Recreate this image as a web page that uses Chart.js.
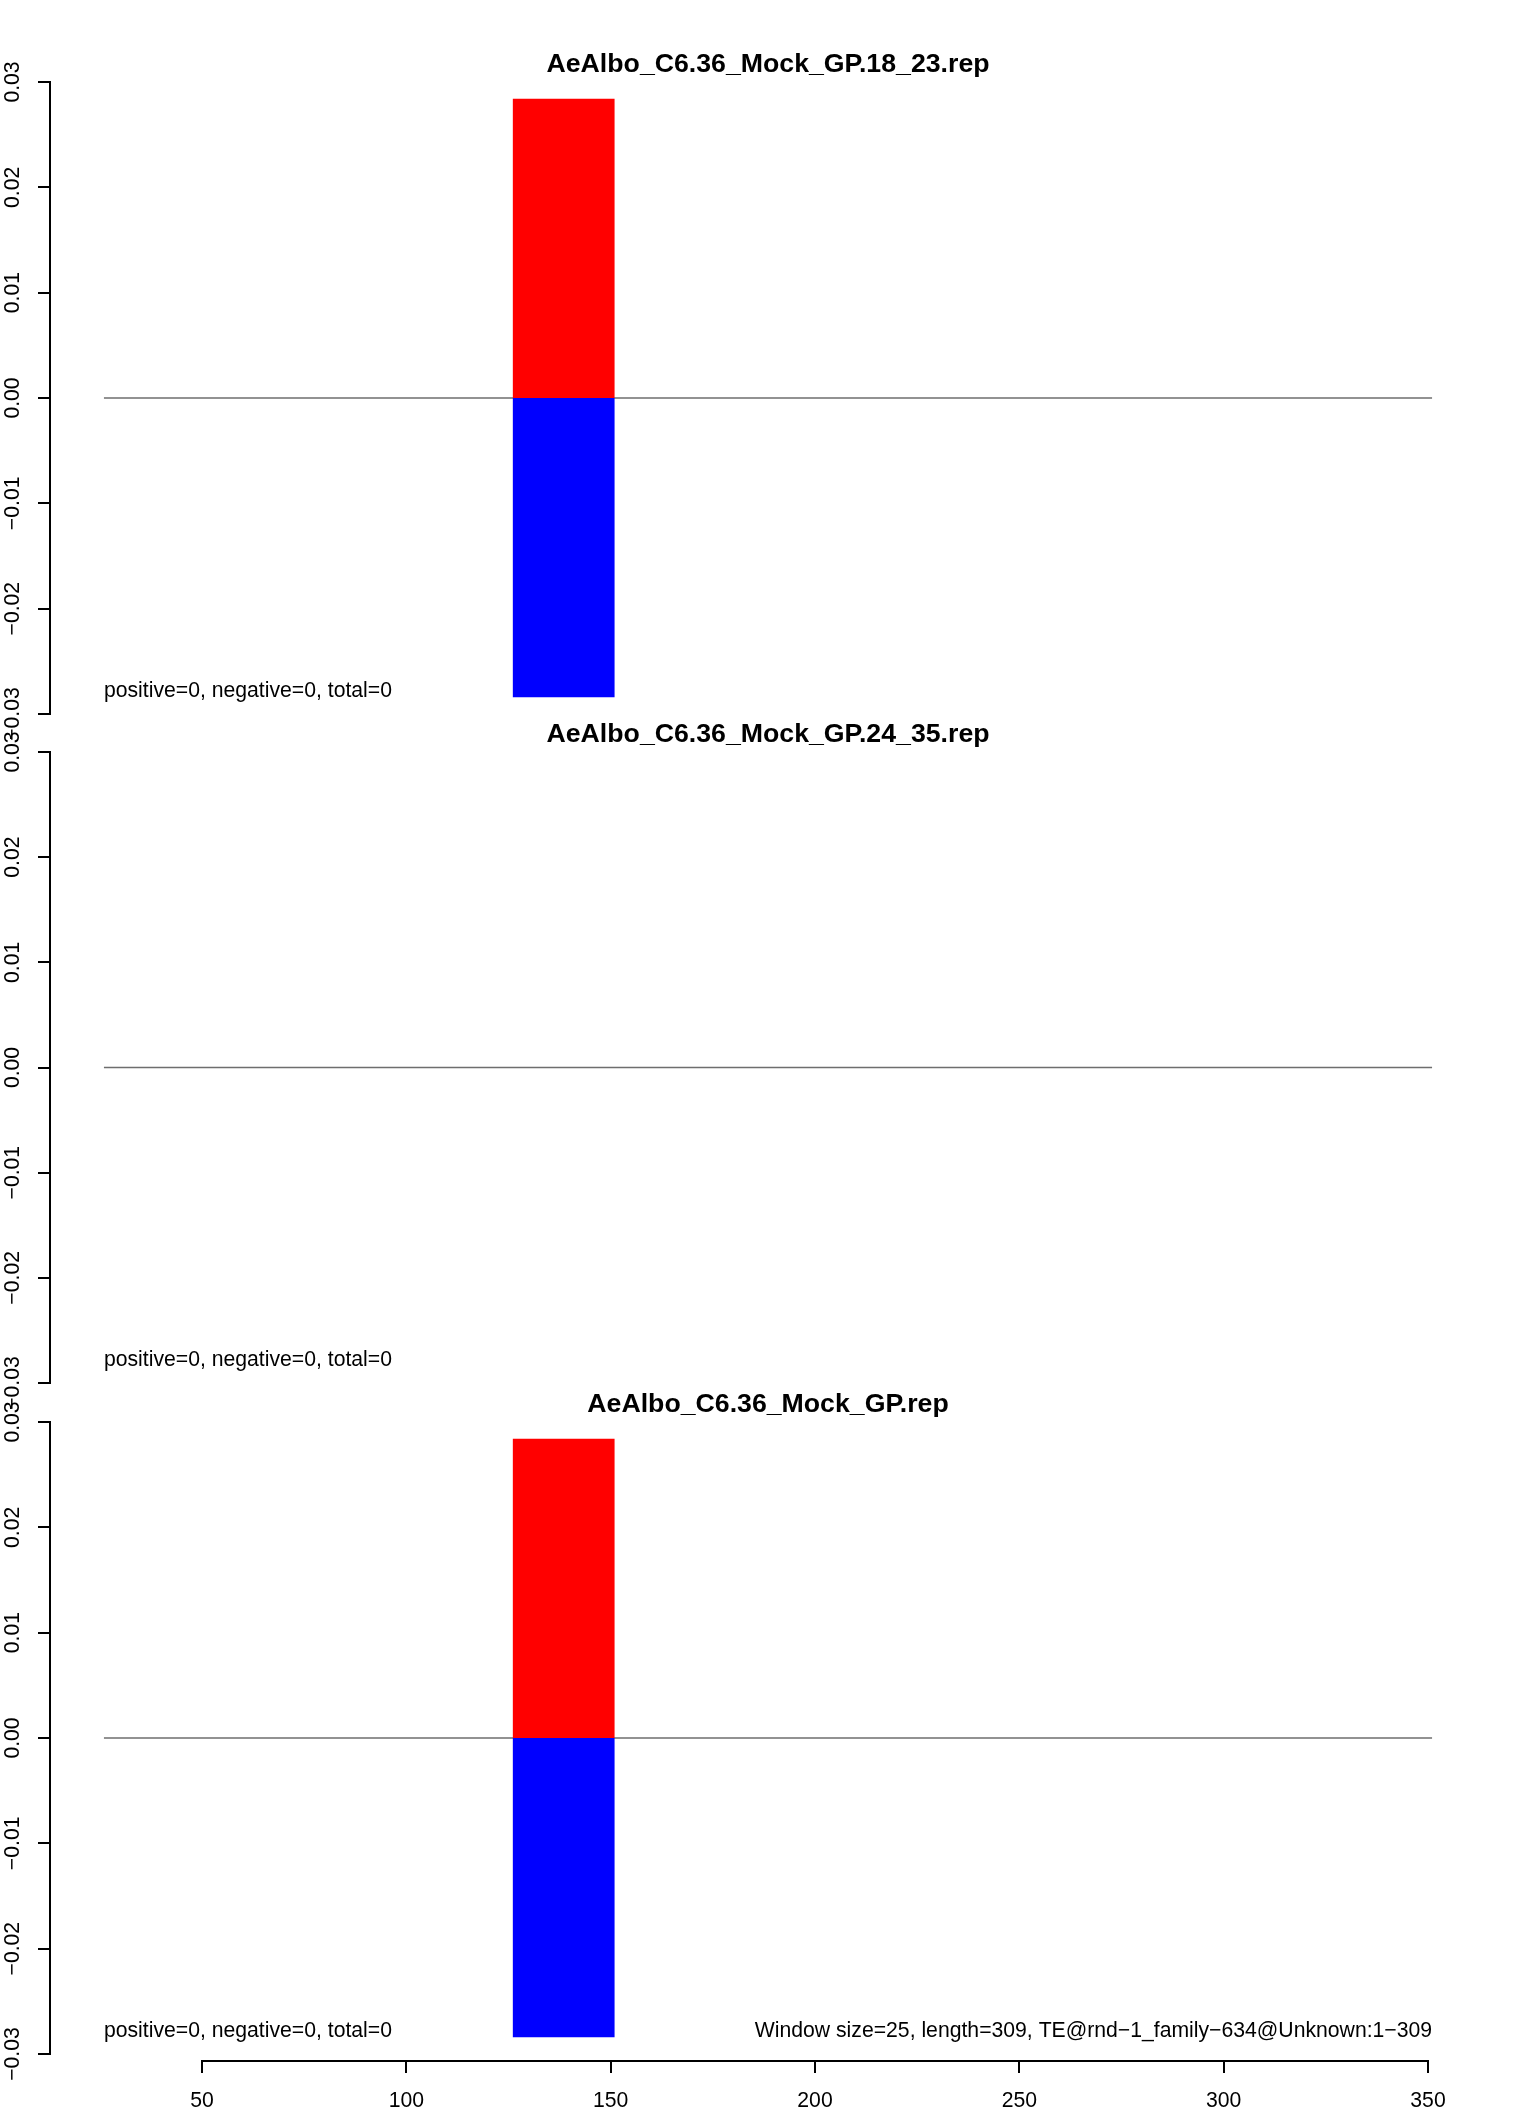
<!DOCTYPE html>
<html>
<head>
<meta charset="utf-8">
<script src="https://cdn.jsdelivr.net/npm/chart.js@4.4.1/dist/chart.umd.min.js"></script>
<style>
  html, body { margin: 0; padding: 0; background: #fff; }
  #wrap { position: relative; width: 1536px; height: 2112px; }
  #wrap canvas { position: absolute; left: 0; top: 0; }
</style>
</head>
<body>
<div id="wrap">
  <canvas id="panel-0" width="1536" height="2112"></canvas>
  <canvas id="panel-1" width="1536" height="2112"></canvas>
  <canvas id="panel-2" width="1536" height="2112"></canvas>
  <canvas id="x-axis" width="1536" height="2112"></canvas>
</div>
<script>
// --- data ---
const panelTitles = [
  'AeAlbo_C6.36_Mock_GP.18_23.rep',
  'AeAlbo_C6.36_Mock_GP.24_35.rep',
  'AeAlbo_C6.36_Mock_GP.rep'
];
const windowStarts = [126];
const windowEnds = [151];
const positiveValues = [[0.0284], [0], [0.0284]];
const negativeValues = [[-0.0284], [0], [-0.0284]];
const seqRange = [26, 351];          // zero line / text anchors
const xRange = [12.8, 364.2];        // plot region (usr) in x
const yTickMin = -0.03, yTickMax = 0.03, yTickStep = 0.01;
const xTickMin = 50, xTickMax = 350, xTickStep = 50;
const countLabels = [
  'positive=0, negative=0, total=0',
  'positive=0, negative=0, total=0',
  'positive=0, negative=0, total=0'
];
const footnote = 'Window size=25, length=309, TE@rnd\u22121_family\u2212634@Unknown:1\u2212309';
const noteY = -0.0278;

// layout (pixels): chart area top/bottom of each panel
const panelTop = [82, 752, 1422];
const panelBottom = [714, 1383, 2054];

const FONT = "'Liberation Sans', Arial, Helvetica, sans-serif";
const TEXT_SIZE = 21.2;
const TITLE_SIZE = 26.7;
Chart.defaults.font.family = FONT;
Chart.defaults.font.size = TEXT_SIZE;
Chart.defaults.color = '#000';

function fmtTick(v){
  if (Math.abs(v) < 1e-9) v = 0;
  return v.toFixed(2).replace('-', '\u2212');
}

const notesPlugin = {
  id: 'notes',
  afterDatasetsDraw(chart, args, opts){
    const {ctx, scales} = chart;
    const x = scales.x, y = scales.y;
    ctx.save();
    ctx.font = TEXT_SIZE + 'px ' + FONT;
    ctx.fillStyle = '#000';
    ctx.textBaseline = 'middle';
    const py = y.getPixelForValue(noteY);
    if (opts.left){
      ctx.textAlign = 'left';
      ctx.fillText(opts.left, x.getPixelForValue(seqRange[0]), py);
    }
    if (opts.right){
      ctx.textAlign = 'right';
      ctx.fillText(opts.right, x.getPixelForValue(seqRange[1]), py);
    }
    ctx.restore();
  }
};

function rectSeries(values, color){
  // one filled step per window, drawn from the windows arrays
  return windowStarts.map((s, i) => ({
    data: [{x: s, y: values[i]}, {x: windowEnds[i], y: values[i]}],
    fill: 'origin',
    backgroundColor: color,
    borderWidth: 0,
    pointRadius: 0
  }));
}

panelTitles.forEach((title, k) => {
  const datasets = [
    ...rectSeries(positiveValues[k], '#ff0000'),
    ...rectSeries(negativeValues[k], '#0000ff'),
    {
      data: [{x: seqRange[0], y: 0}, {x: seqRange[1], y: 0}],
      borderColor: '#6e6e6e',
      borderWidth: 1.4,
      pointRadius: 0,
      fill: false
    }
  ];

  new Chart(document.getElementById('panel-' + k), {
    type: 'line',
    data: { datasets },
    plugins: [notesPlugin],
    options: {
      responsive: false,
      animation: false,
      layout: {
        padding: { top: panelTop[k] - TITLE_SIZE * 1.2 - 1, bottom: 2112 - panelBottom[k], left: 0, right: 50 }
      },
      plugins: {
        legend: { display: false },
        tooltip: { enabled: false },
        title: {
          display: true,
          text: title,
          fullSize: false,
          color: '#000',
          font: { size: TITLE_SIZE, weight: 'bold' },
          padding: { top: 0, bottom: 1 }
        },
        notes: {
          left: countLabels[k],
          right: k === panelTitles.length - 1 ? footnote : null
        }
      },
      scales: {
        x: { type: 'linear', min: xRange[0], max: xRange[1], display: false },
        y: {
          type: 'linear',
          min: yTickMin,
          max: yTickMax,
          afterFit: (s) => { s.width = 50; },
          border: { display: true, color: '#000', width: 2 },
          grid: { drawOnChartArea: false, drawTicks: true, tickLength: 12, color: '#000', tickColor: '#000', lineWidth: 2 },
          ticks: {
            stepSize: yTickStep,
            minRotation: 90,
            maxRotation: 90,
            crossAlign: 'center',
            padding: -2,
            color: '#000',
            callback: fmtTick
          }
        }
      }
    }
  });
});

// shared x axis under the last panel
new Chart(document.getElementById('x-axis'), {
  type: 'line',
  data: { datasets: [] },
  options: {
    responsive: false,
    animation: false,
    layout: { padding: { top: 2000, bottom: 0, left: 202, right: 108 } },
    plugins: { legend: { display: false }, tooltip: { enabled: false } },
    scales: {
      x: {
        type: 'linear',
        min: xTickMin,
        max: xTickMax,
        afterFit: (s) => { s.height = 51; },
        border: { display: true, color: '#000', width: 2 },
        grid: { drawOnChartArea: false, drawTicks: true, tickLength: 12, color: '#000', tickColor: '#000', lineWidth: 2 },
        ticks: { stepSize: xTickStep, padding: 15, color: '#000', maxRotation: 0 }
      },
      y: { display: false, min: 0, max: 1 }
    }
  }
});
</script>
</body>
</html>
